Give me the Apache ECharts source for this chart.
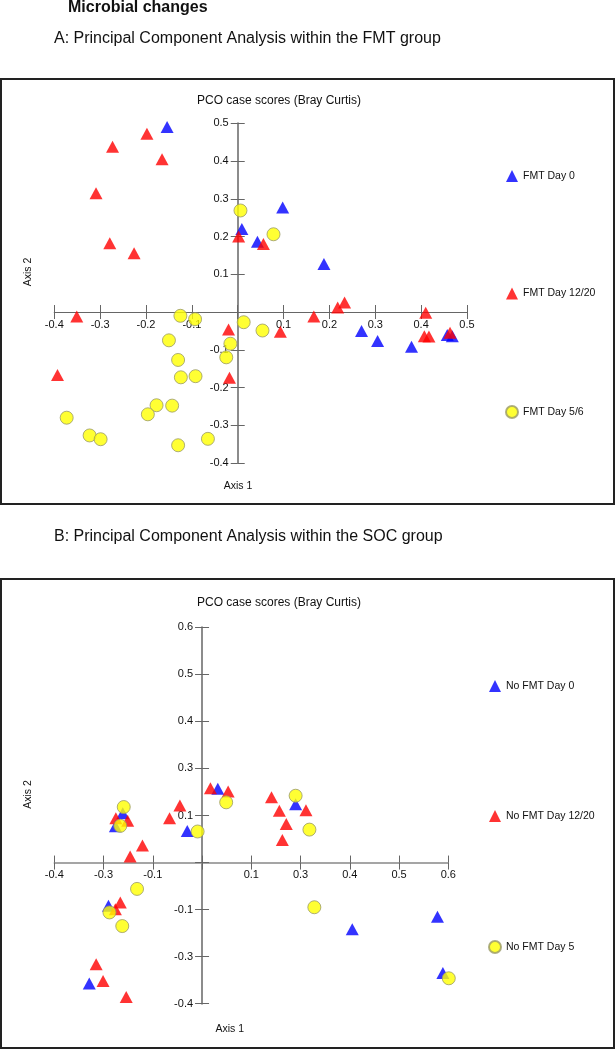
<!DOCTYPE html>
<html>
<head>
<meta charset="utf-8">
<title>Microbial changes</title>
<script src="https://cdn.jsdelivr.net/npm/echarts@6/dist/echarts.min.js"></script>
<style>
    html, body { margin: 0; padding: 0; background: #fff; }
    #main { width: 616px; height: 1050px; }
</style>
</head>
<body>
<div id="main"></div>
<script>
    // legend / group names
    var namesA = ["FMT Day 0", "FMT Day 12/20", "FMT Day 5/6"];
    var namesB = ["No FMT Day 0", "No FMT Day 12/20", "No FMT Day 5"];

    // tick labels, from axis min upwards (0 has no label)
    var ticksA = ["-0.4", "-0.3", "-0.2", "-0.1", "", "0.1", "0.2", "0.3", "0.4", "0.5"];
    var ticksB = ["-0.4", "-0.3", "-0.1", "", "0.1", "0.3", "0.4", "0.5", "0.6"];

    // A: FMT group, [axis1, axis2]
    var fmtDay0 = [[-0.154, 0.49], [0.098, 0.277], [0.009, 0.22], [0.043, 0.186], [0.188, 0.127],
        [0.27, -0.05], [0.305, -0.077], [0.379, -0.092], [0.457, -0.061], [0.468, -0.064]];
    var fmtDay1220 = [[-0.198, 0.472], [-0.273, 0.438], [-0.165, 0.405], [-0.309, 0.315], [-0.279, 0.182],
        [-0.226, 0.156], [0.002, 0.2], [0.056, 0.18], [-0.351, -0.012], [-0.393, -0.167],
        [-0.02, -0.046], [-0.018, -0.174], [0.093, -0.052], [0.166, -0.012], [0.218, 0.012],
        [0.233, 0.025], [0.41, -0.002], [0.407, -0.064], [0.417, -0.065], [0.463, -0.055]];
    var fmtDay56 = [[0.006, 0.269], [0.078, 0.206], [-0.125, -0.01], [-0.093, -0.019], [0.013, -0.027],
        [0.054, -0.049], [-0.15, -0.075], [-0.016, -0.084], [-0.025, -0.12], [-0.13, -0.127],
        [-0.124, -0.173], [-0.092, -0.17], [-0.177, -0.247], [-0.143, -0.248], [-0.196, -0.271],
        [-0.373, -0.28], [-0.323, -0.327], [-0.299, -0.337], [-0.065, -0.336], [-0.13, -0.353]];

    // B: SOC group
    var socDay0 = [[0.032, 0.157], [0.19, 0.124], [-0.03, 0.067], [-0.161, 0.105], [-0.176, 0.077],
        [-0.19, -0.092], [-0.229, -0.257], [0.305, -0.142], [0.478, -0.115], [0.489, -0.235]];
    var socDay1220 = [[0.017, 0.158], [0.053, 0.151], [0.141, 0.139], [0.157, 0.11], [0.211, 0.111],
        [0.171, 0.082], [0.163, 0.048], [-0.045, 0.121], [-0.066, 0.094], [-0.175, 0.094],
        [-0.151, 0.089], [-0.121, 0.036], [-0.146, 0.013], [-0.166, -0.085], [-0.176, -0.099],
        [-0.215, -0.216], [-0.201, -0.252], [-0.154, -0.286]];
    var socDay5 = [[0.049, 0.128], [0.19, 0.142], [0.218, 0.07], [-0.009, 0.066], [-0.159, 0.118],
        [-0.166, 0.078], [-0.132, -0.056], [-0.188, -0.106], [-0.162, -0.135], [0.228, -0.095],
        [0.501, -0.246]];

    var FONT = "Liberation Sans, Arial, sans-serif";
    var W = 616, H = 1050;

    var grids = [
        {left: 54.3, right: 149, top: 123.3, bottom: 587},
        {left: 54.3, right: 167.7, top: 627.3, bottom: 46.3}
    ];

    function labelFn(labels, min) {
        return function (v) {
            var i = Math.round((v - min) / 0.1);
            return labels[i] || "";
        };
    }

    // axes cross at 0: shift each axis into the grid by the pixel distance of 0 from the edge.
    // main axis carries labels + outward ticks, twin only inward ticks, so ticks cross the line
    function axisPair(dim, grid, min, max, labels, line) {
        var g = grids[grid];
        var len = dim === "x" ? (H - g.top - g.bottom) : (W - g.left - g.right);
        var off = -(0 - min) / (max - min) * len;
        var base = {
            type: "value", gridIndex: grid, min: min, max: max, interval: 0.1,
            position: dim === "x" ? "bottom" : "left", offset: off,
            splitLine: {show: false}
        };
        var main = Object.assign({}, base, {
            axisLine: {show: true, onZero: false, lineStyle: line},
            axisTick: {show: true, length: 7, lineStyle: {color: "#666", width: 1}},
            axisLabel: {
                show: true, margin: dim === "x" ? 7 : 9, color: "#111",
                fontSize: 11, fontFamily: FONT, formatter: labelFn(labels, min)
            }
        });
        var twin = Object.assign({}, base, {
            axisLine: {show: false, onZero: false},
            axisTick: {show: true, inside: true, length: 7, lineStyle: {color: "#666", width: 1}},
            axisLabel: {show: false}
        });
        return [main, twin];
    }

    // points sit on their own layer so they cover the tick labels, as in the original
    function scatter(name, data, xi, yi, kind) {
        var s = {
            type: "scatter", name: name, data: data, xAxisIndex: xi, yAxisIndex: yi,
            clip: false, silent: true, zlevel: 1
        };
        if (kind === "blue") {
            s.symbol = "triangle"; s.symbolSize = [13, 12];
            s.itemStyle = {color: "#0000ff"};
        } else if (kind === "red") {
            s.symbol = "triangle"; s.symbolSize = [13, 12];
            s.itemStyle = {color: "#ff0000"};
        } else {
            s.symbol = "circle"; s.symbolSize = 13;
            s.itemStyle = {color: "#ffff00", borderColor: "#9a9a66", borderWidth: 1};
        }
        return s;
    }

    function txt(x, y, text, size, opts) {
        opts = opts || {};
        return {
            type: "text", x: x, y: y, rotation: opts.rotation || 0, silent: true,
            style: {
                text: text, fill: "#111", textAlign: opts.align || "left", textVerticalAlign: "middle",
                font: (opts.bold ? "bold " : "") + size + "px " + FONT
            }
        };
    }

    var chart = echarts.init(document.getElementById("main"), null, {renderer: "canvas"});

    var xA = axisPair("x", 0, -0.4, 0.5, ticksA, {color: "#666", width: 1.2});
    var yA = axisPair("y", 0, -0.4, 0.5, ticksA, {color: "#8c8c8c", width: 2});
    var xB = axisPair("x", 1, -0.3, 0.5, ticksB, {color: "#888", width: 1.5});
    var yB = axisPair("y", 1, -0.3, 0.5, ticksB, {color: "#8c8c8c", width: 2});

    var legendText = {fontSize: 10.5, fontFamily: FONT, color: "#111"};

    var option = {
        animation: false,
        backgroundColor: "#fff",
        grid: grids,
        xAxis: [xA[0], xA[1], xB[0], xB[1]],
        yAxis: [yA[0], yA[1], yB[0], yB[1]],
        legend: [
            {
                data: namesA, orient: "vertical", left: 500, top: 165, itemGap: 105.5,
                itemWidth: 12, itemHeight: 12, selectedMode: false, textStyle: legendText
            },
            {
                data: namesB, orient: "vertical", left: 483, top: 675, itemGap: 118,
                itemWidth: 12, itemHeight: 12, selectedMode: false, textStyle: legendText
            }
        ],
        series: [
            scatter(namesA[0], fmtDay0, 0, 0, "blue"),
            scatter(namesA[1], fmtDay1220, 0, 0, "red"),
            scatter(namesA[2], fmtDay56, 0, 0, "yellow"),
            scatter(namesB[0], socDay0, 2, 2, "blue"),
            scatter(namesB[1], socDay1220, 2, 2, "red"),
            scatter(namesB[2], socDay5, 2, 2, "yellow")
        ],
        graphic: [
            {type: "rect", shape: {x: 1, y: 79, width: 613, height: 425}, silent: true,
                style: {fill: null, stroke: "#222", lineWidth: 2}},
            {type: "rect", shape: {x: 1, y: 579, width: 613, height: 469}, silent: true,
                style: {fill: null, stroke: "#222", lineWidth: 2}},
            txt(68, 7.5, "Microbial changes", 16, {bold: true}),
            txt(54, 39, "A: Principal Component Analysis within the FMT group", 16),
            txt(54, 537, "B: Principal Component Analysis within the SOC group", 16),
            txt(279, 101, "PCO case scores (Bray Curtis)", 12, {align: "center"}),
            txt(279, 602.7, "PCO case scores (Bray Curtis)", 12, {align: "center"}),
            txt(238, 486, "Axis 1", 10.5, {align: "center"}),
            txt(229.7, 1029, "Axis 1", 10.5, {align: "center"}),
            txt(28, 272, "Axis 2", 10.5, {align: "center", rotation: Math.PI / 2}),
            txt(28, 794.5, "Axis 2", 10.5, {align: "center", rotation: Math.PI / 2})
        ]
    };

    chart.setOption(option);
</script>
</body>
</html>
